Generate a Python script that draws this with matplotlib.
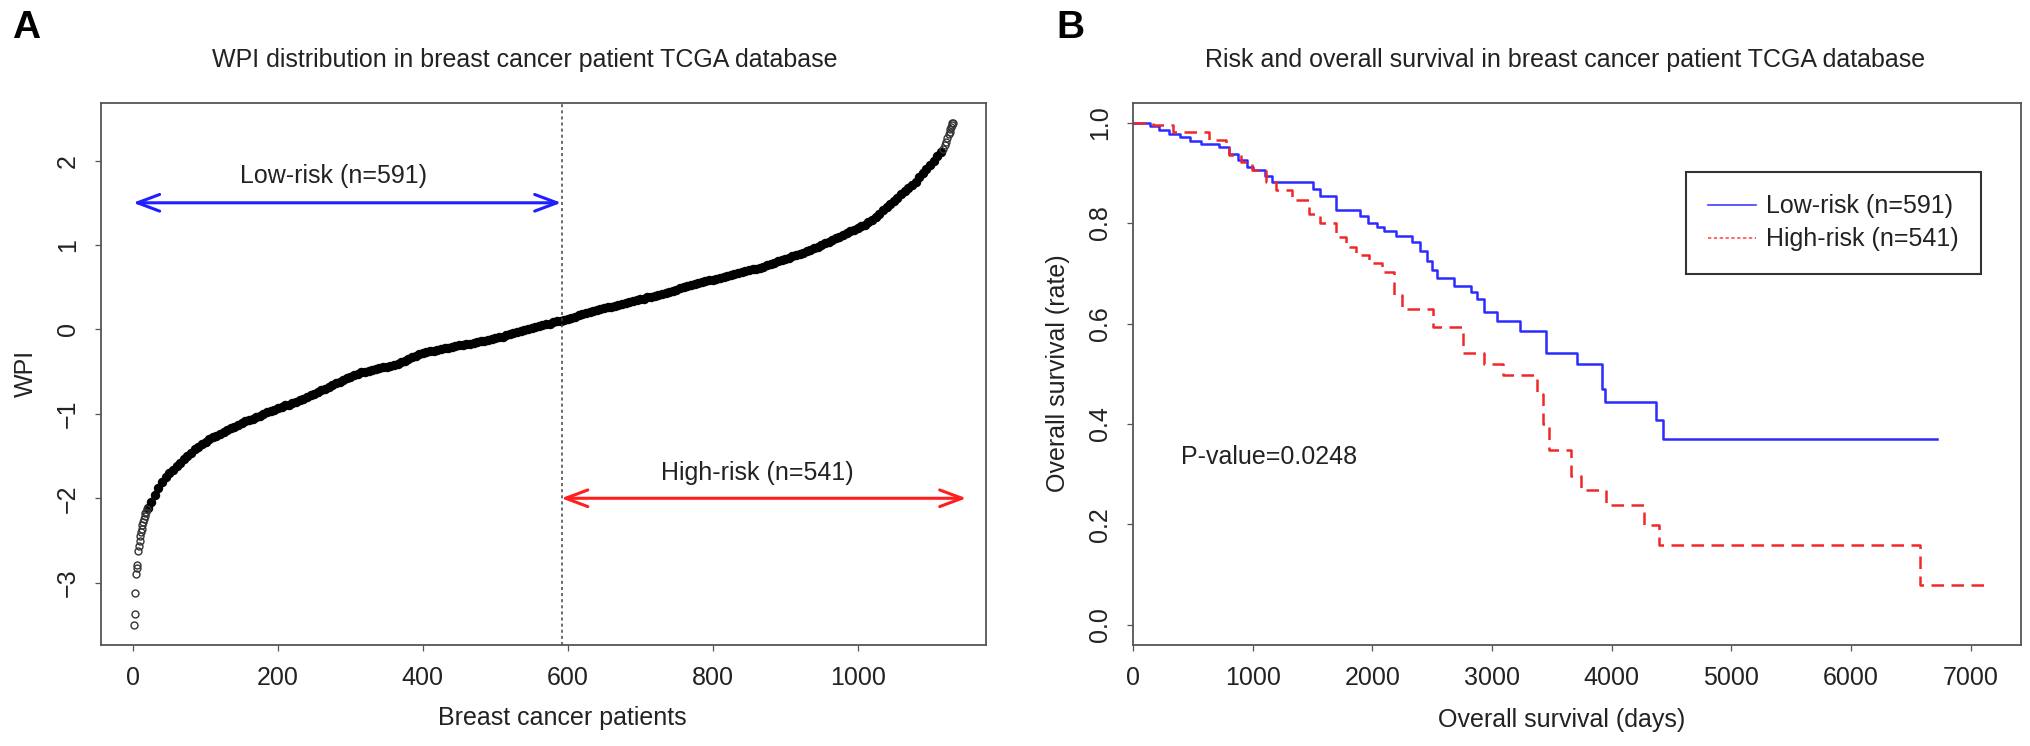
import numpy as np
import matplotlib
matplotlib.use("Agg")
import matplotlib.pyplot as plt
from matplotlib.lines import Line2D
from matplotlib.ticker import FormatStrFormatter

plt.rcParams["font.family"] = ["Liberation Sans", "DejaVu Sans"]

# ---- panel A: sorted WPI per patient ----
n_low, n_high = 591, 541

tail_low_rank = list(range(1, 20))
tail_low_wpi = [-3.50, -3.365, -3.12, -2.90, -2.82, -2.79, -2.63, -2.57, -2.51, -2.45,
                -2.40, -2.36, -2.32, -2.28, -2.24, -2.21, -2.18, -2.16, -2.13]

mid_rank = list(range(20, 1116, 5))
mid_wpi = [
    -2.11, -2.04, -1.96, -1.88, -1.81, -1.75, -1.70, -1.66, -1.62, -1.58,
    -1.54, -1.50, -1.46, -1.42, -1.39, -1.36, -1.33, -1.30, -1.28, -1.26,
    -1.24, -1.22, -1.19, -1.17, -1.15, -1.13, -1.11, -1.09, -1.07, -1.06,
    -1.04, -1.02, -1.00, -0.98, -0.97, -0.95, -0.93, -0.92, -0.90, -0.89,
    -0.87, -0.86, -0.84, -0.82, -0.80, -0.78, -0.76, -0.74, -0.72, -0.70,
    -0.68, -0.66, -0.64, -0.62, -0.60, -0.58, -0.56, -0.54, -0.53, -0.51,
    -0.50, -0.49, -0.48, -0.47, -0.46, -0.45, -0.44, -0.43, -0.42, -0.41,
    -0.39, -0.37, -0.35, -0.33, -0.31, -0.29, -0.28, -0.27, -0.26, -0.25,
    -0.24, -0.235, -0.225, -0.215, -0.21, -0.20, -0.19, -0.18, -0.175, -0.17,
    -0.16, -0.15, -0.14, -0.135, -0.125, -0.115, -0.105, -0.095, -0.085, -0.07,
    -0.06, -0.045, -0.03, -0.02, -0.005, 0.005, 0.02, 0.03, 0.04, 0.05,
    0.06, 0.07, 0.085, 0.095, 0.105, 0.115, 0.125, 0.14, 0.15, 0.165,
    0.18, 0.19, 0.205, 0.22, 0.23, 0.24, 0.25, 0.26, 0.27, 0.28,
    0.295, 0.305, 0.315, 0.325, 0.335, 0.345, 0.355, 0.365, 0.38, 0.39,
    0.40, 0.41, 0.42, 0.43, 0.445, 0.46, 0.47, 0.485, 0.50, 0.51,
    0.525, 0.54, 0.55, 0.56, 0.57, 0.58, 0.59, 0.60, 0.61, 0.625,
    0.635, 0.645, 0.66, 0.67, 0.68, 0.69, 0.70, 0.71, 0.72, 0.73,
    0.745, 0.76, 0.775, 0.79, 0.805, 0.82, 0.835, 0.85, 0.865, 0.88,
    0.895, 0.91, 0.925, 0.945, 0.96, 0.98, 1.00, 1.02, 1.04, 1.06,
    1.08, 1.10, 1.12, 1.14, 1.16, 1.18, 1.20, 1.22, 1.24, 1.27,
    1.30, 1.33, 1.37, 1.41, 1.45, 1.49, 1.52, 1.56, 1.60, 1.64,
    1.68, 1.71, 1.75, 1.80, 1.85, 1.90, 1.95, 2.00, 2.05, 2.10,
]

tail_high_rank = [1118, 1120, 1122, 1124, 1126, 1127, 1128, 1129, 1130, 1131, 1132]
tail_high_wpi = [2.14, 2.18, 2.22, 2.27, 2.31, 2.34, 2.37, 2.40, 2.42, 2.44, 2.45]

wpi_rank = np.array(tail_low_rank + mid_rank + tail_high_rank)
wpi_value = np.array(tail_low_wpi + mid_wpi + tail_high_wpi)
assert len(wpi_rank) == len(wpi_value)

# ---- panel B: Kaplan-Meier steps ----
low_time = [0, 140, 220, 300, 389, 480, 570, 722, 805, 880,
            950, 1000, 1100, 1164, 1500, 1560, 1695, 1900, 1960, 2043,
            2100, 2196, 2335, 2400, 2460, 2500, 2541, 2683, 2822, 2878,
            2933, 3041, 3238, 3447, 3711, 3920, 3940, 4370, 4426, 6718]
low_surv = [1.0, 0.994, 0.986, 0.978, 0.971, 0.964, 0.958, 0.951, 0.938, 0.925,
            0.912, 0.905, 0.893, 0.882, 0.868, 0.854, 0.826, 0.815, 0.80, 0.792,
            0.785, 0.774, 0.762, 0.745, 0.725, 0.706, 0.690, 0.675, 0.662, 0.648,
            0.622, 0.605, 0.585, 0.542, 0.519, 0.469, 0.444, 0.408, 0.370, 0.370]

high_time = [0, 165, 332, 637, 778, 800, 900, 997, 1112, 1195,
             1331, 1473, 1560, 1695, 1778, 1861, 1973, 2084, 2182, 2249,
             2510, 2760, 2930, 3090, 3380, 3430, 3475, 3660, 3740, 3955,
             4270, 4395, 6577, 7135]
high_surv = [1.0, 0.996, 0.981, 0.965, 0.950, 0.935, 0.922, 0.905, 0.882, 0.866,
             0.846, 0.819, 0.80, 0.773, 0.753, 0.737, 0.720, 0.702, 0.657, 0.628,
             0.593, 0.542, 0.52, 0.497, 0.46, 0.40, 0.348, 0.297, 0.268, 0.238,
             0.198, 0.159, 0.079, 0.079]

p_value = 0.0248

W, H = 2031, 746
FS = 18
TXT = "#222222"
AXC = "#555555"


def fx(px):
    return px / W


def fy(py):
    return 1 - py / H


def style_axes(ax):
    for sp in ax.spines.values():
        sp.set_color(AXC)
        sp.set_linewidth(1.3)
    ax.tick_params(direction="out", length=4.3, width=0.9, color=AXC,
                   labelsize=FS, pad=11, labelcolor=TXT)
    ax.tick_params(axis="y", labelrotation=90)
    for lab in ax.get_yticklabels():
        lab.set_va("center")


def r_lim(lo, hi):
    pad = 0.04 * (hi - lo)
    return lo - pad, hi + pad


fig = plt.figure(figsize=(W / 100, H / 100), dpi=100)
axA = fig.add_axes([fx(101), fy(645), fx(885), (645 - 102.5) / H])
axB = fig.add_axes([fx(1133), fy(645), fx(888), (645 - 102.5) / H])

# panel A: in the dense middle the open circles overlap into a solid band
dense = (wpi_rank >= 20) & (wpi_rank <= 1115)
axA.plot(wpi_rank[dense], wpi_value[dense], linestyle="none", marker="o", ms=6.0,
         mfc="black", mec="black", mew=0.8)
axA.plot(wpi_rank[~dense], wpi_value[~dense], linestyle="none", marker="o", ms=5,
         mfc="none", mec="#333333", mew=1.0)
axA.set_xlim(*r_lim(wpi_rank.min(), wpi_rank.max()))
axA.set_ylim(*r_lim(wpi_value.min(), wpi_value.max()))
axA.set_xticks([0, 200, 400, 600, 800, 1000])
axA.set_yticks([-3, -2, -1, 0, 1, 2])
style_axes(axA)

split = n_low + 0.5
axA.axvline(split, color="#444444", lw=1.1, linestyle=(0, (2, 2)))
arrow_kw = dict(arrowstyle="<->,head_length=0.8,head_width=0.3", lw=2.2,
                mutation_scale=20, shrinkA=0, shrinkB=0)
axA.annotate("", xy=(0, 1.5), xytext=(n_low, 1.5),
             arrowprops=dict(color="#1f1fff", **arrow_kw))
axA.annotate("", xy=(n_low, -2), xytext=(1150, -2),
             arrowprops=dict(color="#ff1f1f", **arrow_kw))
axA.text(276, 1.82, f"Low-risk (n={n_low})", ha="center", va="center",
         fontsize=FS, color=TXT)
axA.text(862, -1.70, f"High-risk (n={n_high})", ha="center", va="center",
         fontsize=FS, color=TXT)

# panel B
axB.step(low_time, low_surv, where="post", color="#2b2bff", lw=1.8)
axB.step(high_time, high_surv, where="post", color="#f02828", lw=1.8,
         linestyle=(0, (5, 3)))
axB.set_xlim(0, max(high_time) * 1.04)
axB.set_ylim(-0.04, 1.04)
axB.set_xticks(range(0, 8000, 1000))
axB.set_yticks([0.0, 0.2, 0.4, 0.6, 0.8, 1.0])
axB.yaxis.set_major_formatter(FormatStrFormatter("%.1f"))
style_axes(axB)

axB.text(403, 0.335, f"P-value={p_value}", ha="left", va="center",
         fontsize=FS, color=TXT)

handles = [Line2D([], [], color="#4040ff", lw=1.2),
           Line2D([], [], color="#ff5050", lw=1.2, linestyle=(0, (2, 1.5)))]
leg = axB.legend(handles, [f"Low-risk (n={n_low})", f"High-risk (n={n_high})"],
                 loc="upper right", bbox_to_anchor=(848 / 888, 473 / 542.5),
                 fontsize=FS, frameon=True, fancybox=False, framealpha=1,
                 borderpad=0.9, handlelength=1.9, handletextpad=0.4,
                 labelspacing=0.35, borderaxespad=0)
leg.get_frame().set_edgecolor("#333333")
leg.get_frame().set_linewidth(1.5)
for t in leg.get_texts():
    t.set_color(TXT)

# titles, axis labels, panel letters
fig.text(fx(212), fy(60), "WPI distribution in breast cancer patient TCGA database",
         ha="left", va="center", fontsize=FS, color=TXT)
fig.text(fx(1205), fy(60), "Risk and overall survival in breast cancer patient TCGA database",
         ha="left", va="center", fontsize=FS, color=TXT)
fig.text(fx(562), fy(718), "Breast cancer patients", ha="center", va="center",
         fontsize=FS, color=TXT)
fig.text(fx(1562), fy(720), "Overall survival (days)", ha="center", va="center",
         fontsize=FS, color=TXT)
fig.text(fx(26), fy(373), "WPI", ha="center", va="center", rotation=90,
         fontsize=FS, color=TXT)
fig.text(fx(1058), fy(373), "Overall survival (rate)", ha="center", va="center",
         rotation=90, fontsize=FS, color=TXT)
fig.text(fx(12), fy(28), "A", ha="left", va="center", fontsize=28,
         fontweight="bold", color="black")
fig.text(fx(1056), fy(28), "B", ha="left", va="center", fontsize=28,
         fontweight="bold", color="black")

fig.savefig("out.png", dpi=100)
